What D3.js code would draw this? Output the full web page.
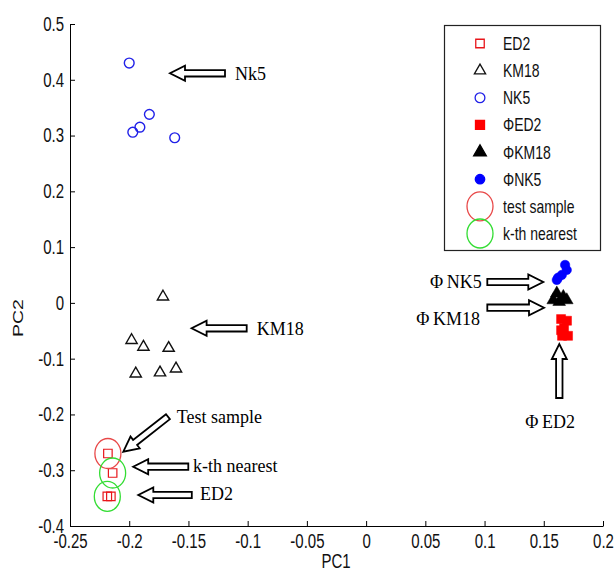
<!DOCTYPE html>
<html>
<head>
<meta charset="utf-8">
<script src="https://cdn.jsdelivr.net/npm/d3@7"></script>
<style>
body { margin: 0; background: #fff; }
svg { display: block; }
.tall { transform-box: fill-box; transform-origin: center; transform: scaleY(1.3); }
</style>
</head>
<body>
<div id="chart"></div>
<script>
// PCA scores
var ed2X = [-0.218, -0.214, -0.2185, -0.2155];
var ed2Y = [-0.270, -0.305, -0.347, -0.347];
var km18X = [-0.1715, -0.198, -0.188, -0.1667, -0.1945, -0.174, -0.1605];
var km18Y = [0.011, -0.067, -0.079, -0.081, -0.127, -0.125, -0.118];
var nk5X = [-0.200, -0.183, -0.191, -0.197, -0.1616];
var nk5Y = [0.430, 0.338, 0.315, 0.306, 0.296];
var phiEd2X = [0.1646, 0.1696, 0.1654, 0.1705, 0.1671, 0.1646];
var phiEd2Y = [-0.029, -0.032, -0.059, -0.059, -0.045, -0.049];
var phiKm18X = [0.161, 0.1665, 0.158, 0.1694, 0.163];
var phiKm18Y = [0.017, 0.011, 0.005, 0.005, 0.002];
var phiNk5X = [0.168, 0.1652, 0.161, 0.1694, 0.162];
var phiNk5Y = [0.068, 0.050, 0.041, 0.059, 0.045];
var testIdx = [0];
var nearestIdx = [1, 2];

var xTicks = [-0.25, -0.2, -0.15, -0.1, -0.05, 0, 0.05, 0.1, 0.15, 0.2];
var yTicks = [-0.4, -0.3, -0.2, -0.1, 0, 0.1, 0.2, 0.3, 0.4, 0.5];

var legendLabels = ['ED2', 'KM18', 'NK5', '\u03a6ED2', '\u03a6KM18', '\u03a6NK5', 'test sample', 'k-th nearest'];

// arrow annotations in data units: tail, tip, label
var notes = [
    { label: 'Nk5', from: [-0.1191, 0.4116], to: [-0.1656, 0.4116], at: [-0.1107, 0.400], anchor: 'start' },
    { label: 'KM18', from: [-0.1008, -0.0455], to: [-0.1473, -0.0455], at: [-0.0924, -0.057], anchor: 'start' },
    { label: 'Test sample', from: [-0.1673, -0.204], to: [-0.205, -0.2668], at: [-0.1599, -0.2153], anchor: 'start' },
    { label: 'k-th nearest', from: [-0.1501, -0.2937], to: [-0.1966, -0.2937], at: [-0.1461, -0.3032], anchor: 'start' },
    { label: 'ED2', from: [-0.1472, -0.3444], to: [-0.1923, -0.3444], at: [-0.1402, -0.3534], anchor: 'start' },
    { label: '\u03a6\u2009NK5', from: [0.1023, 0.0375], to: [0.1496, 0.0375], at: [0.0976, 0.0267], anchor: 'end' },
    { label: '\u03a6\u2009KM18', from: [0.1023, -0.0086], to: [0.1502, -0.0086], at: [0.0962, -0.0396], anchor: 'end' },
    { label: '\u03a6\u2009ED2', from: [0.1631, -0.1705], to: [0.1631, -0.0737], at: [0.1553, -0.2243], anchor: 'middle' }
];

var w = 616, h = 574;
var svg = d3.select('#chart').append('svg')
    .attr('width', w)
    .attr('height', h)
    .style('font-family', '"Liberation Sans", Arial, sans-serif');

var x = d3.scaleLinear().domain([-0.25, 0.2]).range([70, 603]);
var y = d3.scaleLinear().domain([-0.4, 0.5]).range([526, 24]);

function fmt(d) { return String(+d.toFixed(2)); }

var xAxis = svg.append('g')
    .attr('transform', 'translate(0,526)')
    .call(d3.axisBottom(x).tickValues(xTicks).tickFormat(fmt).tickSizeInner(-5).tickSizeOuter(0).tickPadding(10));
var yAxis = svg.append('g')
    .attr('transform', 'translate(70,0)')
    .call(d3.axisLeft(y).tickValues(yTicks).tickFormat(fmt).tickSizeInner(-5).tickSizeOuter(0).tickPadding(6));

[xAxis, yAxis].forEach(function(g) {
    g.selectAll('text').attr('class', 'tall').style('font-size', '15px').style('font-family', '"Liberation Sans", Arial, sans-serif').attr('fill', '#111');
    g.select('.domain').attr('stroke', '#000');
    g.selectAll('.tick line').attr('stroke', '#000');
});

svg.append('text').attr('class', 'tall')
    .attr('x', 336).attr('y', 566)
    .attr('text-anchor', 'middle')
    .attr('fill', '#111')
    .style('font-size', '15px')
    .text('PC1');
svg.append('g')
    .attr('transform', 'translate(23,318) rotate(-90)')
    .append('text')
    .attr('text-anchor', 'middle')
    .attr('fill', '#111')
    .attr('transform', 'scale(1.3,1)')
    .style('font-size', '15px')
    .text('PC2');

function pts(xs, ys) {
    return xs.map(function(v, i) { return { x: v, y: ys[i] }; });
}

function drawSet(data, type, size, fill, stroke, sw) {
    svg.append('g').selectAll('path')
        .data(data)
        .enter()
        .append('path')
        .attr('transform', function(d) { return 'translate(' + x(d.x) + ',' + y(d.y) + ')'; })
        .attr('d', d3.symbol().type(type).size(size))
        .attr('fill', fill)
        .attr('stroke', stroke)
        .attr('stroke-width', sw);
}

drawSet(pts(ed2X, ed2Y), d3.symbolSquare, 72, 'none', '#e8161b', 1.2);
drawSet(pts(km18X, km18Y), d3.symbolTriangle, 55, 'none', '#111', 1.4);
drawSet(pts(nk5X, nk5Y), d3.symbolCircle, 75, 'none', '#2020e8', 1.4);
drawSet(pts(phiEd2X, phiEd2Y), d3.symbolSquare, 81, '#ff0000', '#ff0000', 0.5);
drawSet(pts(phiKm18X, phiKm18Y), d3.symbolTriangle, 70, '#000', '#000', 0.5);
drawSet(pts(phiNk5X, phiNk5Y), d3.symbolCircle, 70, '#0000ff', '#0000ff', 0.5);

// test sample and k-th nearest rings
svg.append('g').selectAll('ellipse')
    .data(testIdx.map(function(i) { return { x: ed2X[i], y: ed2Y[i], c: '#e84848' }; })
        .concat(nearestIdx.map(function(i) { return { x: ed2X[i], y: ed2Y[i], c: '#33dd33' }; })))
    .enter()
    .append('ellipse')
    .attr('cx', function(d) { return x(d.x); })
    .attr('cy', function(d) { return y(d.y); })
    .attr('rx', 13)
    .attr('ry', 15)
    .attr('fill', 'none')
    .attr('stroke', function(d) { return d.c; })
    .attr('stroke-width', 1.3);

// block arrows
function arrowPath(p0, p1) {
    var dx = p1[0] - p0[0], dy = p1[1] - p0[1];
    var len = Math.sqrt(dx * dx + dy * dy);
    var ux = dx / len, uy = dy / len, nx = -uy, ny = ux;
    var sw = 3.2, hw = 7.5, hl = 15;
    var bx = p1[0] - ux * hl, by = p1[1] - uy * hl;
    var p = [
        [p0[0] + nx * sw, p0[1] + ny * sw],
        [bx + nx * sw, by + ny * sw],
        [bx + nx * hw, by + ny * hw],
        [p1[0], p1[1]],
        [bx - nx * hw, by - ny * hw],
        [bx - nx * sw, by - ny * sw],
        [p0[0] - nx * sw, p0[1] - ny * sw]
    ];
    return 'M' + p.map(function(q) { return q[0].toFixed(1) + ',' + q[1].toFixed(1); }).join('L') + 'Z';
}

var ann = svg.append('g');
notes.forEach(function(n) {
    ann.append('path')
        .attr('d', arrowPath([x(n.from[0]), y(n.from[1])], [x(n.to[0]), y(n.to[1])]))
        .attr('fill', '#fff')
        .attr('stroke', '#000')
        .attr('stroke-width', 1.8)
        .attr('stroke-linejoin', 'miter');
    ann.append('text')
        .attr('x', x(n.at[0]))
        .attr('y', y(n.at[1]))
        .attr('text-anchor', n.anchor)
        .style('font-family', '"Liberation Serif", "Times New Roman", serif')
        .style('font-size', '18px')
        .text(n.label);
});

// legend
var lg = svg.append('g');
lg.append('rect')
    .attr('x', 444.5).attr('y', 25.5)
    .attr('width', 156).attr('height', 225)
    .attr('fill', '#fff')
    .attr('stroke', '#222')
    .attr('stroke-width', 1.2);

var legendMarks = [
    { type: d3.symbolSquare, size: 72, fill: 'none', stroke: '#e8161b' },
    { type: d3.symbolTriangle, size: 55, fill: 'none', stroke: '#111' },
    { type: d3.symbolCircle, size: 75, fill: 'none', stroke: '#2020e8' },
    { type: d3.symbolSquare, size: 81, fill: '#ff0000', stroke: '#ff0000' },
    { type: d3.symbolTriangle, size: 70, fill: '#000', stroke: '#000' },
    { type: d3.symbolCircle, size: 70, fill: '#0000ff', stroke: '#0000ff' },
    { ring: '#e84848' },
    { ring: '#33dd33' }
];

var rowY = d3.scalePoint().domain(d3.range(legendLabels.length)).range([43.5, 233.5]);

legendLabels.forEach(function(lab, i) {
    var m = legendMarks[i], cy = rowY(i);
    if (m.ring) {
        lg.append('ellipse')
            .attr('cx', 480).attr('cy', cy)
            .attr('rx', 13).attr('ry', 14.5)
            .attr('fill', 'none').attr('stroke', m.ring).attr('stroke-width', 1.3);
    } else {
        lg.append('path')
            .attr('transform', 'translate(480,' + cy + ')')
            .attr('d', d3.symbol().type(m.type).size(m.size))
            .attr('fill', m.fill).attr('stroke', m.stroke).attr('stroke-width', 1.3);
    }
    lg.append('text')
        .attr('class', 'tall')
        .attr('x', 503).attr('y', cy + 5)
        .style('font-size', '14px')
        .attr('fill', '#111')
        .text(lab);
});
</script>
</body>
</html>
